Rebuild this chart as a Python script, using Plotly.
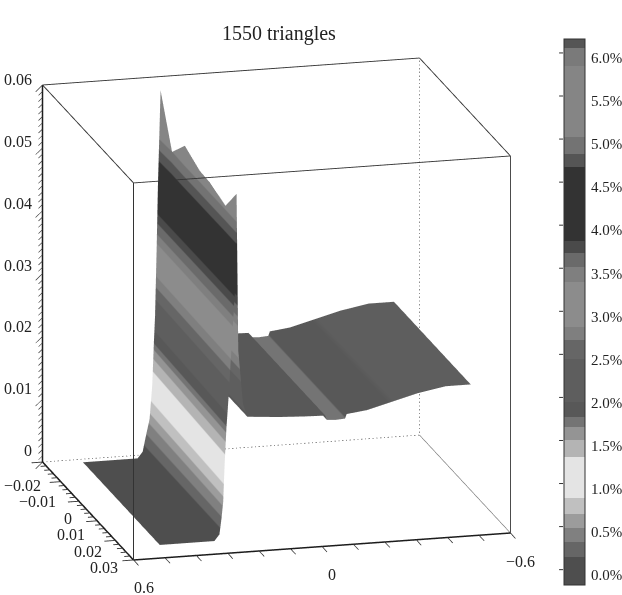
import numpy as np
import plotly.graph_objects as go

TITLE = "1550 triangles"
SERIF = "Liberation Serif"

# ---- surface: stations across the span, and rows of the table
y_stations = [-0.0185, -0.0121, -0.0050, 0.0033, 0.0088, 0.0176, 0.0237]
x_rows = [
    [0.480] * 7,
    [0.400] * 7,
    [0.330] * 7,
    [0.306] * 7,
    [0.290] * 7,
    [0.2800, 0.2806, 0.2813, 0.2819, 0.2824, 0.2832, 0.2837],
    [0.2680, 0.2695, 0.2712, 0.2732, 0.2745, 0.2765, 0.2780],
    [0.2595, 0.2617, 0.2642, 0.2670, 0.2689, 0.2719, 0.2740],
    [0.2545, 0.2565, 0.2586, 0.2612, 0.2629, 0.2656, 0.2676],
    [0.2505, 0.2521, 0.2539, 0.2560, 0.2574, 0.2596, 0.2612],
    [0.2455, 0.2460, 0.2465, 0.2471, 0.2475, 0.2481, 0.2486],
    [0.2415, 0.2407, 0.2398, 0.2388, 0.2382, 0.2371, 0.2365],
    [0.2330, 0.2335, 0.2340, 0.2345, 0.2350, 0.2352, 0.2355],
    [0.230] * 7, [0.215] * 7, [0.201] * 7, [0.100] * 7, [0.020] * 7,
    [-0.047] * 7, [-0.052] * 7, [-0.080] * 7, [-0.110] * 7, [-0.115] * 7,
    [-0.180] * 7, [-0.241] * 7, [-0.340] * 7, [-0.430] * 7, [-0.510] * 7,
]
crest_z = [0.0583, 0.0505, 0.0537, 0.0523, 0.0522, 0.0512, 0.0550]
row_z = [0.0, 0.0, 0.0, 0.0, 0.0010, 0.0034, 0.0061, 0.0115, 0.0180, 0.0225,
         0.0330, 0.0430, None, 0.0300, 0.0215, 0.0194, 0.0190, 0.0188, 0.0187,
         0.0180, 0.0179, 0.0180, 0.0187, 0.0191, 0.0199, 0.0212, 0.0220, 0.0220]

# ---- colour bands (percent, grey level)
band_edges = [-0.12, 0.21, 0.38, 0.54, 0.71, 0.89, 1.37, 1.56, 1.72, 1.83, 2.01,
              2.51, 2.72, 2.88, 3.40, 3.57, 3.73, 3.88, 4.73, 4.89, 5.08, 5.91,
              6.12, 6.22]
band_greys = [0x4e, 0x66, 0x80, 0x9c, 0xc0, 0xe4, 0xb4, 0x94, 0x74, 0x58, 0x5e,
              0x66, 0x7f, 0x8c, 0x7f, 0x6a, 0x4a, 0x33, 0x55, 0x73, 0x85, 0x7a,
              0x55]
bar_ticks = [0, 0.5, 1, 1.5, 2, 2.5, 3, 3.5, 4, 4.5, 5, 5.5, 6]
bar_tick_text = ["0.0%", "0.5%", "1.0%", "1.5%", "2.0%", "2.5%", "3.0%", "3.5%",
                 "4.0%", "4.5%", "5.0%", "5.5%", "6.0%"]

# ---- axes
x_limits = [-0.6, 0.6]
y_limits = [-0.02, 0.03]
z_limits = [0.0, 0.06]
x_tick_vals = [0.6, 0.5, 0.4, 0.3, 0.2, 0.1, 0.0, -0.1, -0.2, -0.3, -0.4, -0.5, -0.6]
x_labels = {0.6: "0.6", 0.0: "0", -0.6: "\u22120.6"}
y_major = [-0.02, -0.01, 0.0, 0.01, 0.02, 0.03]
y_text = ["\u22120.02", "\u22120.01", "0", "0.01", "0.02", "0.03"]
y_shift = [(0, -23), (-3, -20), (-5, -17), (-10, -14), (-11, -11), (-14, -8)]
y_minor = [v / 1000 for v in range(-20, 31, 2)]
z_major = [0.0, 0.01, 0.02, 0.03, 0.04, 0.05, 0.06]
z_text = ["0", "0.01", "0.02", "0.03", "0.04", "0.05", "0.06"]
z_shift = [12, 11, 10, 8, 7, 6, 5]
z_minor = [v / 1000 for v in range(0, 61)]

# ---- build surface
x_grid = np.array(x_rows)
n_rows = len(x_rows)
y_grid = np.tile(np.array(y_stations), (n_rows, 1))
z_grid = np.array([crest_z if v is None else [v] * 7 for v in row_z], dtype=float)

lo, hi = band_edges[0], band_edges[-1]
colorscale = []
for i, g in enumerate(band_greys):
    col = f"rgb({g},{g},{g})"
    colorscale.append([(band_edges[i] - lo) / (hi - lo), col])
    colorscale.append([(band_edges[i + 1] - lo) / (hi - lo), col])

BAR_LEFT, BAR_W, BAR_TOP, BAR_H = 564, 21, 39, 546
W, H = 622, 595

fig = go.Figure()
fig.add_trace(go.Surface(
    x=x_grid, y=y_grid, z=z_grid, surfacecolor=z_grid * 100,
    colorscale=colorscale, cmin=lo, cmax=hi,
    lighting=dict(ambient=1, diffuse=0, specular=0, fresnel=0, roughness=1),
    hoverinfo="skip",
    colorbar=dict(
        x=BAR_LEFT / W, xanchor="left", xpad=0, y=1 - BAR_TOP / H, yanchor="top", ypad=0,
        thickness=BAR_W, thicknessmode="pixels", len=BAR_H, lenmode="pixels",
        tickmode="array", tickvals=bar_ticks, ticktext=bar_tick_text,
        ticks="outside", ticklen=3, tickcolor="white",
        tickfont=dict(family=SERIF, size=15, color="#222"),
        outlinecolor="#333", outlinewidth=1, borderwidth=0,
    ),
))


def lines(segs, width, color, dash="solid"):
    xs, ys, zs = [], [], []
    for a, b in segs:
        xs += [a[0], b[0], None]
        ys += [a[1], b[1], None]
        zs += [a[2], b[2], None]
    fig.add_trace(go.Scatter3d(x=xs, y=ys, z=zs, mode="lines", hoverinfo="skip",
                               showlegend=False,
                               line=dict(color=color, width=width, dash=dash)))


x0, x1 = x_limits
y0, y1 = y_limits
z0, z1 = z_limits
# thin solid edges
lines([((x1, y0, z1), (x0, y0, z1)), ((x0, y0, z1), (x0, y1, z1)),
       ((x0, y1, z1), (x1, y1, z1)), ((x1, y1, z1), (x1, y0, z1)),
       ((x1, y1, z1), (x1, y1, z0)), ((x0, y1, z1), (x0, y1, z0))], 1.8, "#333")
lines([((x0, y0, z0), (x0, y1, z0))], 1.3, "#777")
# heavy axes
lines([((x1, y0, z0), (x1, y0, z1)), ((x1, y0, z0), (x1, y1, z0)),
       ((x1, y1, z0), (x0, y1, z0))], 3, "#1c1c1c")
# hidden edges
lines([((x1, y0, z0), (x0, y0, z0)), ((x0, y0, z0), (x0, y0, z1))], 1.5, "#666", "dot")
# ticks
lines([((v, y1, z0), (v, y1 + 0.0028, z0)) for v in x_tick_vals], 1.5, "#333")
lines([((x1, v, z0), (x1 + (0.035 if v in y_major else 0.018), v, z0)) for v in y_minor], 1.8, "#333")
lines([((x1, y0, v), (x1 + (0.022 if v in z_major else 0.013), y0,
                      v - (0.0010 if v in z_major else 0.0006))) for v in z_minor], 1.2, "#333")

ann = []
fnt = dict(family=SERIF, size=16, color="#222")
for v, t in x_labels.items():
    ann.append(dict(x=v, y=y1, z=z0, text=t, showarrow=False, font=fnt,
                    xshift=10, yshift=-28))
for v, t, s in zip(y_major, y_text, y_shift):
    ann.append(dict(x=x1, y=v, z=z0, text=t, showarrow=False, font=fnt,
                    xanchor="right", xshift=s[0], yshift=s[1]))
for v, t, s in zip(z_major, z_text, z_shift):
    ann.append(dict(x=x1, y=y0, z=v, text=t, showarrow=False, font=fnt,
                    xanchor="right", xshift=-9, yshift=s))

view = np.array([0.2399, 0.9303, 0.2777])
DIST = 2.0
ZOOM = 1.361
fig.update_layout(
    width=W, height=H, margin=dict(l=0, r=0, t=0, b=0), paper_bgcolor="white",
    showlegend=False,
    annotations=[dict(text=TITLE, x=279 / W, y=1 - 20 / H, xref="paper", yref="paper",
                      showarrow=False, font=dict(family=SERIF, size=20, color="#222"))],
    shapes=[dict(type="line", xref="paper", yref="paper",
                 x0=(BAR_LEFT - 4) / W, x1=BAR_LEFT / W,
                 y0=1 - (BAR_TOP + BAR_H * (hi - t) / (hi - lo) - 5) / H,
                 y1=1 - (BAR_TOP + BAR_H * (hi - t) / (hi - lo) - 5) / H,
                 line=dict(color="#333", width=1)) for t in bar_ticks],
    scene=dict(
        domain=dict(x=[0, 554 / W], y=[0, 1 - 23 / H]),
        xaxis=dict(visible=False, range=[-0.66, 0.66]),
        yaxis=dict(visible=False, range=[-0.025, 0.035]),
        zaxis=dict(visible=False, range=[-0.006, 0.066]),
        aspectmode="manual",
        aspectratio=dict(x=1.1 * ZOOM, y=1.123 * ZOOM, z=1.21 * ZOOM),
        bgcolor="white",
        camera=dict(projection=dict(type="orthographic"),
                    up=dict(x=0, y=0, z=1),
                    center=dict(x=0, y=0, z=0),
                    eye=dict(x=float(view[0] * DIST), y=float(view[1] * DIST), z=float(view[2] * DIST))),
        annotations=ann,
    ),
)
fig.write_html("out.html", config=dict(displayModeBar=False),
               post_script="document.body.style.margin='0';document.body.style.overflow='hidden';")
